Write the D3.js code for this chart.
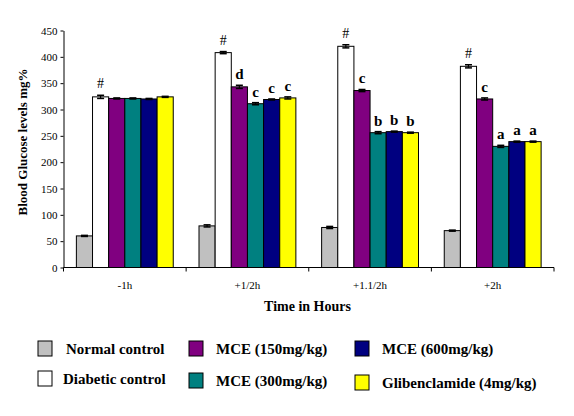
<!DOCTYPE html>
<html>
<head>
<meta charset="utf-8">
<script src="https://cdn.jsdelivr.net/npm/d3@7"></script>
<style>
  body { margin: 0; background: #fff; }
  svg { display: block; font-family: "Liberation Serif", "Times New Roman", serif; }
</style>
</head>
<body>
<svg id="chart" width="574" height="416"></svg>
<script>
// data
const timepoints = ["-1h", "+1/2h", "+1.1/2h", "+2h"];
const groups = ["Normal control", "Diabetic control", "MCE (150mg/kg)", "MCE (300mg/kg)", "MCE (600mg/kg)", "Glibenclamide (4mg/kg)"];
const groupColors = ["#c0c0c0", "#ffffff", "#800080", "#008080", "#000080", "#ffff00"];

const normalControl = [60, 79, 76, 70];
const diabeticControl = [324, 408, 420, 382];
const mce150 = [321, 343, 336, 320];
const mce300 = [321, 311, 256, 230];
const mce600 = [320, 319, 258, 239];
const glibenclamide = [324, 322, 256, 239];

const normalErr = [1, 2, 2, 1];
const diabeticErr = [3, 2, 3, 3];
const mce150Err = [1, 3, 2, 2];
const mce300Err = [1, 2, 2, 2];
const mce600Err = [1, 1, 1, 1];
const glibenclamideErr = [1, 2, 1, 1];

// significance marks above bars (index per group)
const diabeticMarks = ["#", "#", "#", "#"];
const mce150Marks = ["", "d", "c", "c"];
const mce300Marks = ["", "c", "b", "a"];
const mce600Marks = ["", "c", "b", "a"];
const glibenclamideMarks = ["", "c", "b", "a"];

const yTicks = [0, 50, 100, 150, 200, 250, 300, 350, 400, 450];

const seriesValues = [normalControl, diabeticControl, mce150, mce300, mce600, glibenclamide];
const seriesErr = [normalErr, diabeticErr, mce150Err, mce300Err, mce600Err, glibenclamideErr];
const seriesMarks = [null, diabeticMarks, mce150Marks, mce300Marks, mce600Marks, glibenclamideMarks];

const margin = { left: 63.5, right: 20, top: 30.5, bottom: 149 };
const width = 554 - margin.left;
const height = 267.5 - margin.top;

const svg = d3.select("#chart");
const g = svg.append("g").attr("transform", `translate(${margin.left}, ${margin.top})`);

const x0 = d3.scaleBand().domain(timepoints).range([0, width]).paddingInner(0.21).paddingOuter(0.105);
const x1 = d3.scaleBand().domain(groups).range([0, x0.bandwidth()]);
const y = d3.scaleLinear().domain([0, 450]).range([height, 0]);

// bars
const bars = [];
timepoints.forEach((t, i) => {
  groups.forEach((grp, j) => {
    bars.push({ t, grp, j, v: seriesValues[j][i], e: seriesErr[j][i], m: seriesMarks[j] ? seriesMarks[j][i] : "" });
  });
});

const barG = g.selectAll(".bar").data(bars).enter().append("g")
  .attr("transform", (d) => `translate(${x0(d.t) + x1(d.grp)}, 0)`);

barG.append("rect")
  .attr("x", 0)
  .attr("y", (d) => y(d.v))
  .attr("width", x1.bandwidth())
  .attr("height", (d) => height - y(d.v))
  .attr("fill", (d) => groupColors[d.j])
  .attr("stroke", "#000")
  .attr("stroke-width", 1);

// error bars
const cx = x1.bandwidth() / 2;
barG.append("line")
  .attr("x1", cx).attr("x2", cx)
  .attr("y1", (d) => y(d.v + d.e)).attr("y2", (d) => y(d.v - d.e))
  .attr("stroke", "#000").attr("stroke-width", 1.2);
barG.append("line")
  .attr("x1", cx - 3.5).attr("x2", cx + 3.5)
  .attr("y1", (d) => y(d.v + d.e)).attr("y2", (d) => y(d.v + d.e))
  .attr("stroke", "#000").attr("stroke-width", 1.5);
barG.append("line")
  .attr("x1", cx - 3.5).attr("x2", cx + 3.5)
  .attr("y1", (d) => y(d.v - d.e)).attr("y2", (d) => y(d.v - d.e))
  .attr("stroke", "#000").attr("stroke-width", 1.5);

// marks
barG.filter((d) => d.m !== "").append("text")
  .attr("x", cx)
  .attr("y", (d) => y(d.v + d.e) - (d.m === "#" ? 7 : 6))
  .attr("text-anchor", "middle")
  .style("font-size", (d) => (d.m === "#" ? "14px" : "15px"))
  .style("font-weight", (d) => (d.m === "#" ? "normal" : "bold"))
  .text((d) => d.m);

// y axis
const yAxis = g.append("g")
  .call(d3.axisLeft(y).tickValues(yTicks).tickSize(3).tickSizeOuter(0));
yAxis.select(".domain").attr("stroke", "#000");
yAxis.selectAll("text").style("font-size", "11px").style("font-family", "Liberation Serif, serif").attr("x", -6);

// x axis: ticks at the category boundaries
const xAxisG = g.append("g").attr("transform", `translate(0, ${height})`);
xAxisG.append("line").attr("x1", 0).attr("x2", width).attr("stroke", "#000");
const step = x0.step();
const boundaries = d3.range(timepoints.length + 1).map((k) => x0(timepoints[0]) - step * x0.paddingOuter() + k * step);
xAxisG.selectAll(".xt").data(boundaries).enter().append("line")
  .attr("x1", (d) => d).attr("x2", (d) => d)
  .attr("y1", 0).attr("y2", 4)
  .attr("stroke", "#000");
xAxisG.selectAll(".xl").data(timepoints).enter().append("text")
  .attr("x", (d) => x0(d) + x0.bandwidth() / 2)
  .attr("y", 21)
  .attr("text-anchor", "middle")
  .style("font-size", "11px")
  .text((d) => d);

// axis titles
svg.append("text")
  .attr("x", 307.5).attr("y", 311)
  .attr("text-anchor", "middle")
  .style("font-size", "14px").style("font-weight", "bold")
  .text("Time in Hours");

svg.append("text")
  .attr("transform", "translate(27, 142) rotate(-90)")
  .attr("text-anchor", "middle")
  .style("font-size", "13px").style("font-weight", "bold")
  .text("Blood  Glucose levels mg%");

// legend
const legendCols = [38, 189, 355];
const legendTextX = [66, 216, 382];
const legendRows = [341, 371];
const legend = svg.append("g");
groups.forEach((grp, j) => {
  const col = Math.floor(j / 2);
  const row = j % 2;
  const ly = legendRows[row] + (row === 1 ? col * 2 : 0);
  legend.append("rect")
    .attr("x", legendCols[col]).attr("y", ly)
    .attr("width", 14).attr("height", 15)
    .attr("fill", groupColors[j])
    .attr("stroke", "#000").attr("stroke-width", 1);
  legend.append("text")
    .attr("x", legendTextX[col] - (j === 1 ? 3 : 0)).attr("y", ly + 13)
    .style("font-size", "15px").style("font-weight", "bold")
    .text(grp);
});
</script>
</body>
</html>
